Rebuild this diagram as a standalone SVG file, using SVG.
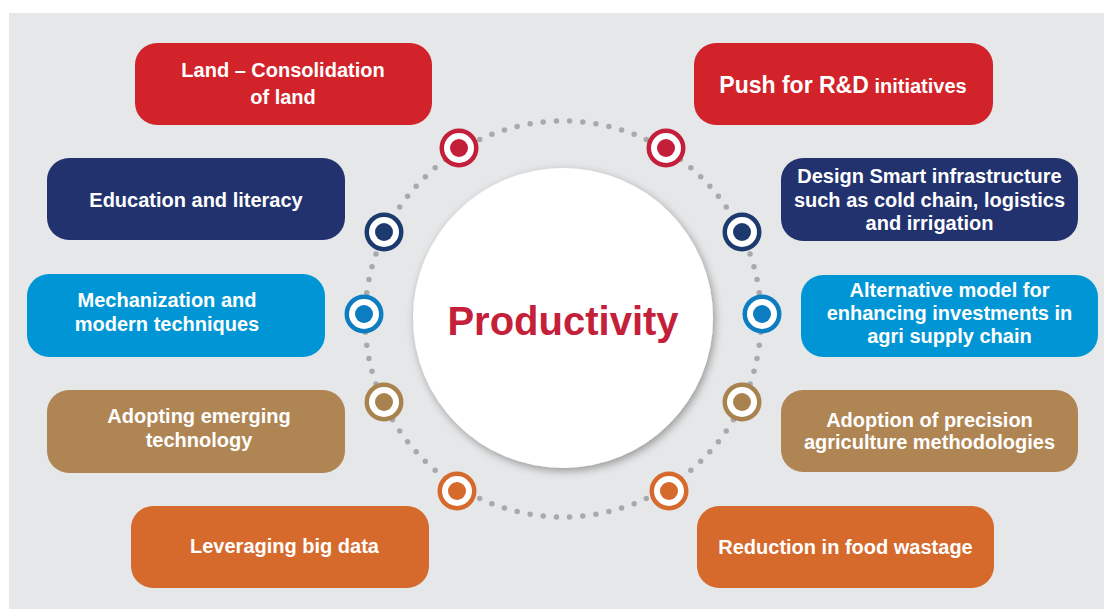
<svg xmlns="http://www.w3.org/2000/svg" width="1104" height="609" viewBox="0 0 1104 609">
<defs>
<style>
.t{font-family:"Liberation Sans",Arial,sans-serif;font-weight:bold;fill:#ffffff;text-anchor:middle;font-size:20px}
.red{fill:#d2232a}.navy{fill:#22326e}.blue{fill:#0096d6}.brown{fill:#b08554}.orange{fill:#d6692c}
</style>
<filter id="sh" x="-20%" y="-20%" width="140%" height="140%">
<feDropShadow dx="2" dy="3" stdDeviation="4" flood-color="#000" flood-opacity="0.35"/>
</filter>
<g id="mk">
<circle r="19.5" fill="currentColor"/>
<circle r="15" fill="#fff"/>
<circle r="9" fill="currentColor"/>
</g>
</defs>
<rect x="0" y="0" width="1104" height="609" fill="#ffffff"/>
<rect x="9" y="13" width="1095" height="596" fill="#e6e7e8"/>

<g id="connectors">
<circle cx="563" cy="319" r="198" fill="none" stroke="#a7a9ac" stroke-width="5.5" stroke-linecap="round" pathLength="94" stroke-dasharray="0 1"/>
</g>

<g id="center">
<circle cx="563" cy="318" r="150" fill="#ffffff" filter="url(#sh)"/>
<text x="563" y="335" font-family="'Liberation Sans',Arial,sans-serif" font-weight="bold" font-size="40" fill="#c4203a" text-anchor="middle">Productivity</text>
</g>

<g id="markers">
<use href="#mk" x="459" y="148" color="#c41f3a"/>
<use href="#mk" x="666" y="148" color="#c41f3a"/>
<use href="#mk" x="384" y="232" color="#1d3a6e"/>
<use href="#mk" x="742" y="232" color="#1d3a6e"/>
<use href="#mk" x="364" y="314" color="#0b7dc0"/>
<use href="#mk" x="762" y="314" color="#0b7dc0"/>
<use href="#mk" x="384" y="402" color="#a8824f"/>
<use href="#mk" x="742" y="402" color="#a8824f"/>
<use href="#mk" x="457" y="491" color="#d6692c"/>
<use href="#mk" x="669" y="491" color="#d6692c"/>
</g>

<g id="n-land">
<rect class="red" x="135" y="43" width="297" height="82" rx="22"/>
<text class="t" x="283" y="77">Land – Consolidation</text>
<text class="t" x="283" y="104" font-size="23">of land</text>
</g>
<g id="n-rnd">
<rect class="red" x="694" y="43" width="299" height="82" rx="22"/>
<text class="t" x="843" y="93"><tspan font-size="23">Push for R&amp;D</tspan> initiatives</text>
</g>
<g id="n-education">
<rect class="navy" x="47" y="158" width="298" height="82" rx="22"/>
<text class="t" x="196" y="207">Education and literacy</text>
</g>
<g id="n-infra">
<rect class="navy" x="781" y="158" width="297" height="83" rx="22"/>
<text class="t" x="929.5" y="183">Design Smart infrastructure</text>
<text class="t" x="929.5" y="207">such as cold chain, logistics</text>
<text class="t" x="929.5" y="230">and irrigation</text>
</g>
<g id="n-mech">
<rect class="blue" x="27" y="274" width="298" height="83" rx="22"/>
<text class="t" x="167" y="307">Mechanization and</text>
<text class="t" x="167" y="331">modern techniques</text>
</g>
<g id="n-alt">
<rect class="blue" x="801" y="275" width="297" height="82" rx="22"/>
<text class="t" x="949.5" y="297">Alternative model for</text>
<text class="t" x="949.5" y="320">enhancing investments in</text>
<text class="t" x="949.5" y="343">agri supply chain</text>
</g>
<g id="n-emerging">
<rect class="brown" x="47" y="390" width="298" height="83" rx="22"/>
<text class="t" x="199" y="423">Adopting emerging</text>
<text class="t" x="199" y="447">technology</text>
</g>
<g id="n-precision">
<rect class="brown" x="781" y="390" width="297" height="82" rx="22"/>
<text class="t" x="929.5" y="427">Adoption of precision</text>
<text class="t" x="929.5" y="449">agriculture methodologies</text>
</g>
<g id="n-bigdata">
<rect class="orange" x="131" y="506" width="298" height="82" rx="22"/>
<text class="t" x="284.5" y="553">Leveraging big data</text>
</g>
<g id="n-wastage">
<rect class="orange" x="697" y="506" width="297" height="82" rx="22"/>
<text class="t" x="845.5" y="554">Reduction in food wastage</text>
</g>
</svg>
